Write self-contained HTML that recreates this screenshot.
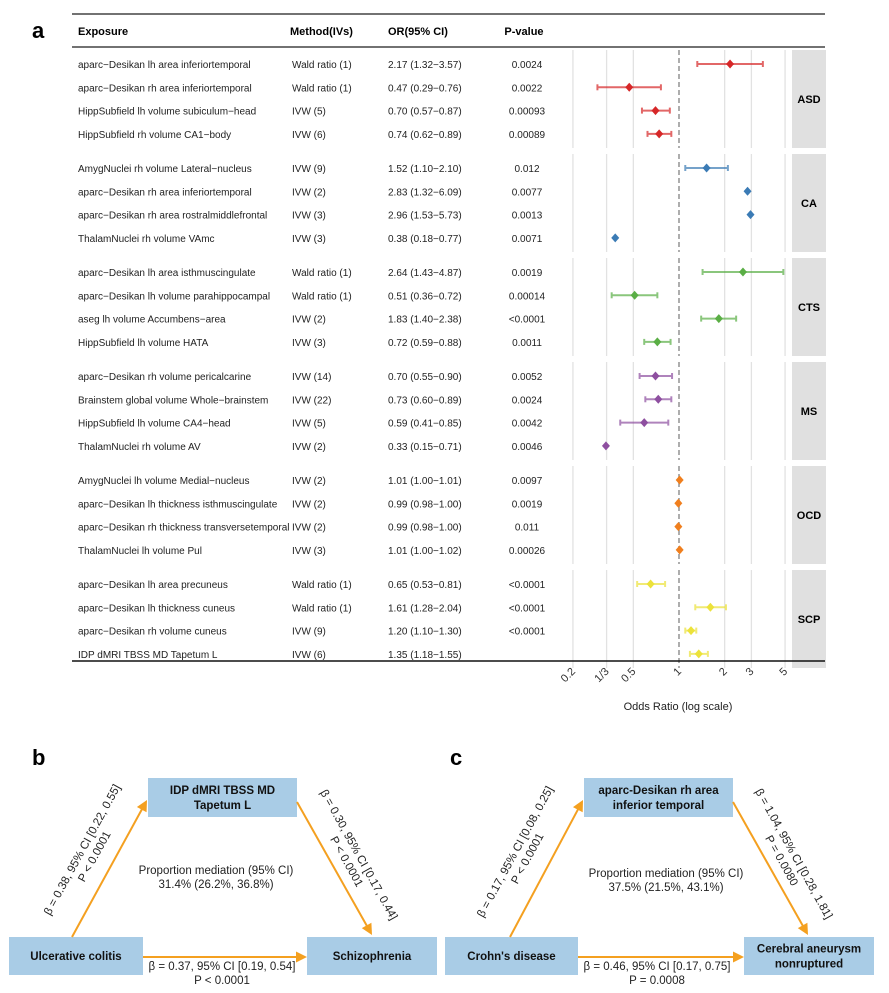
<!DOCTYPE html>
<html><head><meta charset="utf-8"><style>
html,body{margin:0;padding:0;background:#fff}
svg{display:block;font-family:"Liberation Sans",Arial,sans-serif}
</style></head><body>
<svg id="fig" width="889" height="993" viewBox="0 0 889 993" xmlns="http://www.w3.org/2000/svg">
<g id="pa"></g>
<g id="pb"></g>
<g id="pc"></g>
</svg>
<script>
const groups = ["ASD","CA","CTS","MS","OCD","SCP"];
const groupColors = ["#d62728","#3b7bb5","#5aae45","#8e4fa0","#f07f1e","#ece23a"];
const exposures = [
"aparc−Desikan lh area inferiortemporal","aparc−Desikan rh area inferiortemporal","HippSubfield lh volume subiculum−head","HippSubfield rh volume CA1−body",
"AmygNuclei rh volume Lateral−nucleus","aparc−Desikan rh area inferiortemporal","aparc−Desikan rh area rostralmiddlefrontal","ThalamNuclei rh volume VAmc",
"aparc−Desikan lh area isthmuscingulate","aparc−Desikan lh volume parahippocampal","aseg lh volume Accumbens−area","HippSubfield lh volume HATA",
"aparc−Desikan rh volume pericalcarine","Brainstem global volume Whole−brainstem","HippSubfield lh volume CA4−head","ThalamNuclei rh volume AV",
"AmygNuclei lh volume Medial−nucleus","aparc−Desikan lh thickness isthmuscingulate","aparc−Desikan rh thickness transversetemporal","ThalamNuclei lh volume Pul",
"aparc−Desikan lh area precuneus","aparc−Desikan lh thickness cuneus","aparc−Desikan rh volume cuneus","IDP dMRI TBSS MD Tapetum L"];
const methods = ["Wald ratio (1)","Wald ratio (1)","IVW (5)","IVW (6)","IVW (9)","IVW (2)","IVW (3)","IVW (3)",
"Wald ratio (1)","Wald ratio (1)","IVW (2)","IVW (3)","IVW (14)","IVW (22)","IVW (5)","IVW (2)",
"IVW (2)","IVW (2)","IVW (2)","IVW (3)","Wald ratio (1)","Wald ratio (1)","IVW (9)","IVW (6)"];
const orValues = [2.17,0.47,0.70,0.74,1.52,2.83,2.96,0.38,2.64,0.51,1.83,0.72,0.70,0.73,0.59,0.33,1.01,0.99,0.99,1.01,0.65,1.61,1.20,1.35];
const ciLow = [1.32,0.29,0.57,0.62,1.10,1.32,1.53,0.18,1.43,0.36,1.40,0.59,0.55,0.60,0.41,0.15,1.00,0.98,0.98,1.00,0.53,1.28,1.10,1.18];
const ciHigh = [3.57,0.76,0.87,0.89,2.10,6.09,5.73,0.77,4.87,0.72,2.38,0.88,0.90,0.89,0.85,0.71,1.01,1.00,1.00,1.02,0.81,2.04,1.30,1.55];
const pValues = ["0.0024","0.0022","0.00093","0.00089","0.012","0.0077","0.0013","0.0071","0.0019","0.00014","<0.0001","0.0011",
"0.0052","0.0024","0.0042","0.0046","0.0097","0.0019","0.011","0.00026","<0.0001","<0.0001","<0.0001",""];
const tickValues = [0.2,1/3,0.5,1,2,3,5];
const tickLabels = ["0.2","1/3","0.5","1","2","3","5"];

const NS="http://www.w3.org/2000/svg";
function mk(parent,tag,attrs,text){const e=document.createElementNS(NS,tag);for(const k in attrs)e.setAttribute(k,attrs[k]);if(text!==undefined)e.textContent=text;parent.appendChild(e);return e;}
const xScale = v => 679 + 65.9*Math.log(v);
const xMin=0.2, xMax=5;
const rowY = i => 64 + 104*Math.floor(i/4) + 23.3*(i%4);

const pa=document.getElementById('pa');
let t=mk(pa,'text',{x:32,y:38,'font-size':22,'font-weight':'bold'},'a');


let l=mk(pa,'line',{x1:72,x2:825,y1:14,y2:14,stroke:'#444','stroke-width':1.5});


l=mk(pa,'line',{x1:72,x2:825,y1:47,y2:47,stroke:'#444','stroke-width':1.5});


const headers=[["Exposure",78,'start'],["Method(IVs)",290,'start'],["OR(95% CI)",388,'start'],["P-value",524,'middle']];
headers.forEach(h=>{const e=mk(pa,'text',{x:h[1],y:35,'font-size':11,'font-weight':'bold','text-anchor':h[2]},h[0]);

});

groups.forEach((g,gi)=>{
  const top=50+104*gi, bot=top+98;
  tickValues.forEach((v,ti)=>{
    const x=xScale(v);
    const gl=mk(pa,'line',{x1:x,x2:x,y1:top,y2:bot,stroke:v===1?'#999':'#e2e2e2','stroke-width':v===1?1.6:1.3,'stroke-dasharray':v===1?'5,3':'none'});
    
    
  });
  const r=mk(pa,'rect',{x:792,y:top,width:34,height:bot-top,fill:'#e0e0e0'});
  
  
  const st=mk(pa,'text',{x:809,y:(top+bot)/2+4,'font-size':11,'font-weight':'bold','text-anchor':'middle'},g);
  
  
});

exposures.forEach((name,i)=>{
  const y=rowY(i), col=groupColors[Math.floor(i/4)];
  const cells=[[name,78,'start'],[methods[i],292,'start'],[orValues[i].toFixed(2)+" ("+ciLow[i].toFixed(2)+"−"+ciHigh[i].toFixed(2)+")",388,'start'],[pValues[i],527,'middle']];
  const nm=['exposure','method','or-ci','p-value'];
  cells.forEach((c,ci)=>{const e=mk(pa,'text',{x:c[1],y:y+4,'font-size':10,'text-anchor':c[2],fill:'#222'},c[0]);
    
    });
  if(ciLow[i]>=xMin && ciHigh[i]<=xMax){
    const x1=xScale(ciLow[i]), x2=xScale(ciHigh[i]);
    const ci=mk(pa,'g',{stroke:col,'stroke-width':2,opacity:0.7});
    
    
    mk(ci,'line',{x1:x1,x2:x2,y1:y,y2:y});
    mk(ci,'line',{x1:x1,x2:x1,y1:y-3,y2:y+3});
    mk(ci,'line',{x1:x2,x2:x2,y1:y-3,y2:y+3});
  }
  const x=xScale(orValues[i]);
  const d=mk(pa,'polygon',{points:`${x},${y-4.5} ${x+4},${y} ${x},${y+4.5} ${x-4},${y}`,fill:col});
  
  
});

l=mk(pa,'line',{x1:72,x2:825,y1:661,y2:661,stroke:'#111','stroke-width':1.5});


tickValues.forEach((v,ti)=>{
  const x=xScale(v);
  const tl=mk(pa,'text',{x:x+3,y:672,'font-size':11,'text-anchor':'end',fill:'#333',transform:`rotate(-45 ${x+3} 672)`},tickLabels[ti]);
  
  
});
t=mk(pa,'text',{x:678,y:710,'font-size':11,'text-anchor':'middle',fill:'#222'},'Odds Ratio (log scale)');



function arrowHead(g,x1,y1,x2,y2){
  const a=Math.atan2(y2-y1,x2-x1), L=11, W=5.5;
  const bx=x2-L*Math.cos(a), by=y2-L*Math.sin(a);
  mk(g,'polygon',{points:`${x2},${y2} ${bx+W*Math.sin(a)},${by-W*Math.cos(a)} ${bx-W*Math.sin(a)},${by+W*Math.cos(a)}`,fill:'#f4a020'});
}
function panel(g,letter,lx,boxes,arrows,labels){
  let e=mk(g,'text',{x:lx,y:765,'font-size':22,'font-weight':'bold'},letter);
  
  
  boxes.forEach(b=>{
    const r=mk(g,'rect',{x:b.x,y:b.y,width:b.w,height:b.h,fill:'#a9cce6'});
    
    
    const cx=b.x+b.w/2, cy=b.y+b.h/2;
    b.lines.forEach((s,k)=>{
      const tt=mk(g,'text',{x:cx,y:cy+4+(k-(b.lines.length-1)/2)*15,'font-size':11.5,'font-weight':'bold','text-anchor':'middle',fill:'#111'},s);
      
      
    });
  });
  arrows.forEach(a=>{
    const ag=mk(g,'g',{});
    
    
    const an=Math.atan2(a[3]-a[1],a[2]-a[0]);
    mk(ag,'line',{x1:a[0],y1:a[1],x2:a[2]-9*Math.cos(an),y2:a[3]-9*Math.sin(an),stroke:'#f4a020','stroke-width':2});
    arrowHead(ag,a[0],a[1],a[2],a[3]);
  });
  labels.forEach(lb=>{
    const lg=mk(g,'g',{transform:`translate(${lb.x} ${lb.y}) rotate(${lb.r})`});
    
    
    lb.lines.forEach((s,k)=>mk(lg,'text',{x:0,y:4+(k-(lb.lines.length-1)/2)*14,'font-size':11.5,'text-anchor':'middle',fill:'#222'},s));
  });
}
panel(document.getElementById('pb'),'b',32,
 [{name:'exposure-box-ulcerative-colitis',x:9,y:937,w:134,h:38,lines:['Ulcerative colitis']},
  {name:'mediator-box-tapetum',x:148,y:778,w:149,h:39,lines:['IDP dMRI TBSS MD','Tapetum L']},
  {name:'outcome-box-schizophrenia',x:307,y:937,w:130,h:38,lines:['Schizophrenia']}],
 [[72,937,147,800],[297,802,372,935],[143,957,307,957]],
 [{name:'path-a-label',x:88,y:853,r:-61.3,lines:['β = 0.38, 95% CI [0.22, 0.55]','P < 0.0001']},
  {name:'path-b-label',x:353,y:858,r:61,lines:['β = 0.30, 95% CI [0.17, 0.44]','P < 0.0001']},
  {name:'direct-effect-label',x:222,y:973,r:0,lines:['β = 0.37, 95% CI [0.19, 0.54]','P < 0.0001']},
  {name:'proportion-mediated',x:216,y:877,r:0,lines:['Proportion mediation (95% CI)','31.4% (26.2%, 36.8%)']}]);
panel(document.getElementById('pc'),'c',450,
 [{name:'exposure-box-crohns',x:445,y:937,w:133,h:38,lines:["Crohn's disease"]},
  {name:'mediator-box-inferior-temporal',x:584,y:778,w:149,h:39,lines:['aparc-Desikan rh area','inferior temporal']},
  {name:'outcome-box-cerebral-aneurysm',x:744,y:937,w:130,h:38,lines:['Cerebral aneurysm','nonruptured']}],
 [[510,937,583,800],[733,802,808,935],[578,957,744,957]],
 [{name:'path-a-label',x:521,y:855,r:-61.5,lines:['β = 0.17, 95% CI [0.08, 0.25]','P < 0.0001']},
  {name:'path-b-label',x:788,y:857,r:61,lines:['β = 1.04, 95% CI [0.28, 1.81]','P = 0.0080']},
  {name:'direct-effect-label',x:657,y:973,r:0,lines:['β = 0.46, 95% CI [0.17, 0.75]','P = 0.0008']},
  {name:'proportion-mediated',x:666,y:880,r:0,lines:['Proportion mediation (95% CI)','37.5% (21.5%, 43.1%)']}]);
</script>
</body></html>
